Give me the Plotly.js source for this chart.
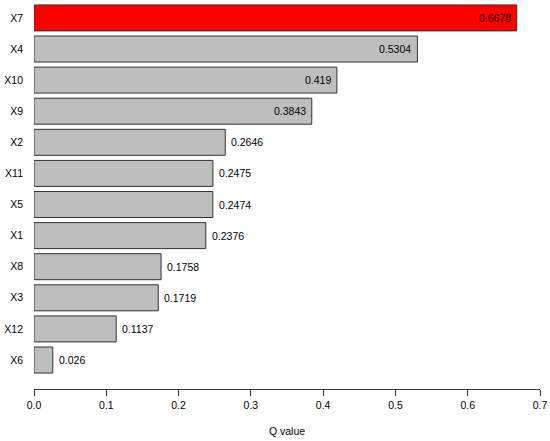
<!DOCTYPE html>
<html><head><meta charset="utf-8">
<script src="https://cdn.plot.ly/plotly-3.0.1.min.js"></script>
<style>html,body{margin:0;padding:0;background:#fff}</style>
</head><body>
<div id="chart" style="width:550px;height:441px"></div>
<script>
// bottom to top
var variables = ["X6","X12","X3","X8","X1","X5","X11","X2","X9","X10","X4","X7"];
var qValues = [0.026,0.1137,0.1719,0.1758,0.2376,0.2474,0.2475,0.2646,0.3843,0.419,0.5304,0.6678];
var labels = ["0.026","0.1137","0.1719","0.1758","0.2376","0.2474","0.2475","0.2646","0.3843","0.419","0.5304","0.6678"];
var xTicks = [0,0.1,0.2,0.3,0.4,0.5,0.6,0.7];

var FONT = "Liberation Sans, Arial, sans-serif";
var maxV = Math.max.apply(null, qValues);
var colors = qValues.map(function(v){ return v === maxV ? "#FF0000" : "#BEBEBE"; });
var idx = variables.map(function(_,i){return i;});

var trace = {
  type: "bar",
  orientation: "h",
  y: idx,
  x: qValues,
  marker: {color: colors, line: {color: "#333333", width: 1}},
  hoverinfo: "none"
};

var annotations = qValues.map(function(v, i){
  var inside = v > 0.3;
  return {
    x: v, y: i, xref: "x", yref: "y",
    text: labels[i], showarrow: false,
    xanchor: inside ? "right" : "left",
    yanchor: "middle",
    xshift: inside ? -4 : 4,
    font: {family: FONT, size: 10.5, color: "#000"}
  };
});

var layout = {
  width: 550, height: 441,
  margin: {l: 34, r: 10, t: 0, b: 52},
  paper_bgcolor: "#fff", plot_bgcolor: "#fff",
  bargap: 0.165,
  showlegend: false,
  font: {family: FONT, size: 10.5, color: "#000"},
  annotations: annotations,
  xaxis: {
    range: [0, 0.7],
    tickvals: xTicks,
    ticktext: xTicks.map(function(v){return v.toFixed(1);}),
    ticks: "outside", ticklen: 6, tickcolor: "#333", tickwidth: 1,
    showline: true, linecolor: "#333", linewidth: 1,
    showgrid: false, zeroline: false,
    title: {text: "Q value", standoff: 18, font: {size: 10.5}},
    tickfont: {size: 10.5}
  },
  yaxis: {
    range: [-0.932, 11.576],
    tickvals: idx,
    ticktext: variables,
    showline: false, showgrid: false, zeroline: false,
    ticks: "", ticklabelstandoff: 10,
    tickfont: {size: 10.5}
  }
};

Plotly.newPlot("chart", [trace], layout, {staticPlot: true, displayModeBar: false});
</script>
</body></html>
